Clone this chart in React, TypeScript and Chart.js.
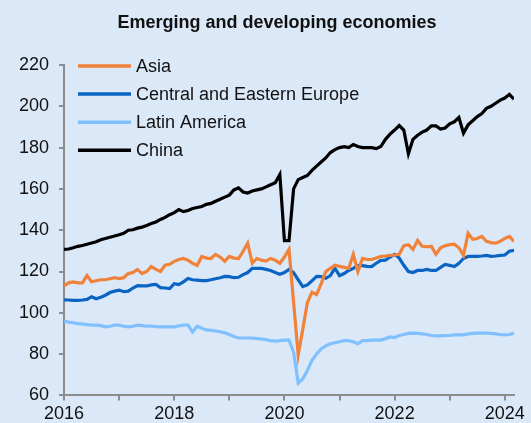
import React, { useEffect, useRef } from "react";
import { Chart, registerables } from "chart.js";

Chart.register(...registerables);

const TITLE = "Emerging and developing economies";
const START_YEAR = 2016;
const X_MIN = 2016;
const X_MAX = 2024 + 2 / 12;
const Y_MIN = 60;
const Y_MAX = 220;
const Y_STEP = 20;

const SERIES_NAMES = ["Asia", "Central and Eastern Europe", "Latin America", "China"];
const SERIES_COLORS = ["#F0823A", "#0A64C4", "#80C0FF", "#000000"];

// Monthly values, Jan 2016 – Mar 2024
const asia = [
  113, 114.5, 115, 114.5, 114.5, 118, 115, 115.5, 116, 116, 116.5, 117,
  116.6, 117, 119, 119.5, 121, 119, 120, 122.4, 121, 120, 123, 123.5,
  124.9, 125.8, 126.3, 125.5, 124, 123, 127.3, 126.5, 126.3, 128.3, 127, 125,
  127.3, 126.5, 126.3, 129.8, 133.7, 124, 126.3, 125.5, 125, 126.3, 125.5, 124,
  127, 130.7, 105, 79.5, 92, 105, 110, 108.8, 114, 120, 121.5, 123,
  122.5, 122, 121.5, 128.3, 120, 126.3, 125.8, 125.8, 126.5, 127.3, 127.5, 127.8,
  128, 128.3, 132.5, 133, 130.7, 135, 132.2, 132, 132.2, 128.3, 131.5, 132.5,
  133, 133.2, 131.5, 127.8, 138.5, 135.6, 136, 137, 134.6, 134, 133.7, 134.6,
  136, 137, 134.6,
];

const centralEasternEurope = [
  106.3, 106.2, 106, 106, 106.2, 106.5, 107.8, 106.8, 107.5, 108.5, 109.8, 110.5,
  111, 110.2, 110.5, 112, 113.2, 113, 113, 113.5, 113.7, 112.2, 112, 111.7,
  114.1, 113.7, 115, 116.6, 116, 115.8, 115.6, 115.6, 116, 116.5, 117, 117.6,
  117.5, 117, 117.2, 118.5, 119.5, 121.5, 121.5, 121.5, 121, 120.5, 119.5, 118.7,
  119.5, 121, 119.5, 116, 112.7, 113.5, 115.5, 117.6, 117.5, 116.7, 118, 121.6,
  118, 119, 120.5, 121.5, 122.9, 122.8, 122.5, 122.4, 124, 125.4, 125.5, 127,
  128.3, 126.5, 123, 120, 119.5, 120.5, 120.5, 121, 120.5, 120.5, 122, 123.4,
  123, 122.4, 124, 126.3, 127.3, 127.3, 127.3, 127.5, 127.8, 127.3, 127.5, 127.8,
  128, 129.8, 130.2,
];

const latinAmerica = [
  96, 95.5, 95.2, 94.8, 94.6, 94.3, 94, 94, 93.8, 93.2, 93.5, 94,
  94, 93.5, 93.2, 93.5, 94, 93.8, 93.5, 93.5, 93.3, 93.2, 93.3, 93.2,
  93.2, 93.7, 94, 94, 90.7, 93.5, 92.5, 91.7, 91.5, 91.2, 90.8, 90.3,
  89.5, 88.5, 87.8, 87.8, 87.8, 87.7, 87.5, 87.3, 87, 86.5, 86.3, 86.5,
  86.8, 86.8, 81, 66, 68, 72, 77, 80, 82.5, 84, 85, 85.5,
  86, 86.5, 86.5, 86, 85, 86.5, 86.5, 86.8, 86.8, 86.8, 87.5, 88.3,
  88, 89, 89.5, 90, 90.2, 90, 89.8, 89.5, 89, 88.8, 88.8, 89,
  89, 89.3, 89.3, 89.3, 89.8, 90, 90.2, 90.2, 90.2, 90, 89.8, 89.5,
  89.3, 89.5, 90.2,
];

const china = [
  130.7, 130.9, 131.5, 132.2, 132.6, 133.2, 133.8, 134.4, 135.4, 136, 136.6, 137.2,
  137.8, 138.5, 140, 140.2, 141, 141.5, 142.3, 143.2, 144, 145.2, 146.2, 147.5,
  148.5, 150, 149, 149.5, 150.5, 151, 151.5, 152.5, 153, 154, 155, 156,
  157, 159.5, 160.5, 158.5, 158, 159, 159.5, 160, 161, 162, 163, 167,
  135, 135, 160, 164.5, 165.5, 166.5, 169, 171, 173, 175, 177.6, 179,
  180, 180.5, 180, 181.5, 180.5, 180, 180, 180, 179.5, 180.5, 184, 186.5,
  188.5, 190.7, 188.5, 177, 184, 186, 187.5, 188.5, 190.5, 190.5, 189, 189.5,
  191.5, 192.5, 194.6, 187, 191, 193, 195, 196.5, 199, 200, 201.5, 203,
  204, 205.8, 203.4,
];

const SERIES_VALUES = [asia, centralEasternEurope, latinAmerica, china];

const BG = "#dbe8f8";
const AXIS_GRAY = "#8c8c8c";
const TEXT = "#111111";
const FONT_FAMILY = "'Liberation Sans', Arial, sans-serif";

const overlayPlugin = {
  id: "overlay",
  afterDraw(chart: any) {
    const ctx = chart.ctx;
    ctx.save();
    // Title
    ctx.fillStyle = TEXT;
    ctx.font = `bold 18px ${FONT_FAMILY}`;
    ctx.textAlign = "center";
    ctx.textBaseline = "middle";
    ctx.fillText(TITLE, 277, 23);
    // Legend
    ctx.font = `18px ${FONT_FAMILY}`;
    ctx.textAlign = "left";
    chart.data.datasets.forEach((ds: any, i: number) => {
      const y = 66 + i * 28.1;
      ctx.strokeStyle = ds.borderColor;
      ctx.lineWidth = 3.5;
      ctx.beginPath();
      ctx.moveTo(78, y);
      ctx.lineTo(131, y);
      ctx.stroke();
      ctx.fillStyle = TEXT;
      ctx.fillText(ds.label, 136, y + 1);
    });
    ctx.restore();
  },
};

export default function App() {
  const ref = useRef<HTMLCanvasElement>(null);

  useEffect(() => {
    document.body.style.margin = "0";
    const toPoints = (arr: number[]) =>
      arr.map((v, i) => ({ x: START_YEAR + i / 12, y: v }));

    const chart = new Chart(ref.current as HTMLCanvasElement, {
      type: "line",
      data: {
        datasets: SERIES_NAMES.map((name, i) => ({
          label: name,
          data: toPoints(SERIES_VALUES[i]),
          borderColor: SERIES_COLORS[i],
          backgroundColor: SERIES_COLORS[i],
          borderWidth: 3.2,
          pointRadius: 0,
          tension: 0,
          fill: false,
        })),
      },
      options: {
        responsive: false,
        animation: false,
        layout: { padding: { top: 65, left: 9, right: 17, bottom: -5 } },
        plugins: {
          legend: { display: false },
          title: { display: false },
          tooltip: { enabled: false },
        },
        scales: {
          x: {
            type: "linear",
            min: X_MIN,
            max: X_MAX,
            ticks: {
              stepSize: 1,
              includeBounds: false,
              autoSkip: false,
              maxRotation: 0,
              padding: 3,
              color: TEXT,
              font: { family: FONT_FAMILY, size: 18 },
              callback: (v: any) => (Number(v) % 2 === 0 ? String(v) : ""),
            },
            grid: {
              display: true,
              drawOnChartArea: false,
              drawTicks: true,
              tickLength: 5,
              color: AXIS_GRAY,
              lineWidth: 2,
            },
            border: { display: true, color: AXIS_GRAY, width: 2 },
          },
          y: {
            type: "linear",
            min: Y_MIN,
            max: Y_MAX,
            ticks: {
              stepSize: Y_STEP,
              padding: 10,
              color: TEXT,
              font: { family: FONT_FAMILY, size: 18 },
            },
            grid: {
              display: true,
              drawOnChartArea: false,
              drawTicks: true,
              tickLength: 5,
              color: AXIS_GRAY,
              lineWidth: 2,
            },
            border: { display: true, color: AXIS_GRAY, width: 2 },
          },
        },
      },
      plugins: [overlayPlugin],
    });
    return () => chart.destroy();
  }, []);

  return (
    <div style={{ width: 531, height: 423, background: BG }}>
      <canvas ref={ref} width={531} height={423} style={{ display: "block" }} />
    </div>
  );
}
